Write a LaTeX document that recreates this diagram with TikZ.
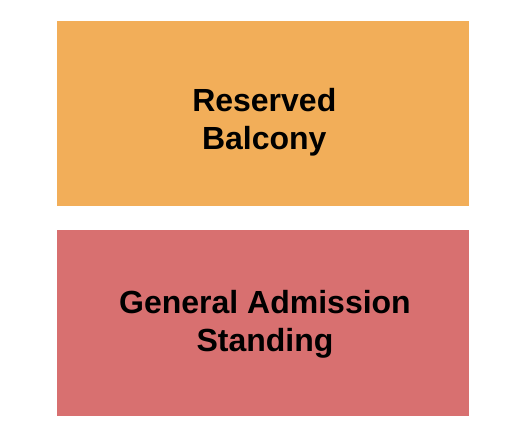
\documentclass[tikz,border=0pt]{standalone}
\usepackage{fontspec}
\setmainfont{Liberation Sans}
\definecolor{balc}{RGB}{242,174,89}
\definecolor{ga}{RGB}{216,112,112}
\tikzset{
  section/.style={anchor=north west, inner sep=0pt, minimum width=412pt},
  lbl/.style={align=center, inner sep=0pt, font=\fontsize{32}{38}\selectfont\bfseries, text=black}
}
\begin{document}
\begin{tikzpicture}[x=1pt,y=-1pt]
\useasboundingbox (0,0) rectangle (525,444);
\node[section, fill=balc, minimum height=184.3pt] (balcony) at (57,21) {};
\node[section, fill=ga, minimum height=185.7pt] (general) at (57,230) {};
\node[lbl] (balconylbl) at (264.3,122) {Reserved\\Balcony};
\node[lbl] (generallbl) at (265,324) {General Admission\\Standing};
\end{tikzpicture}
\end{document}
